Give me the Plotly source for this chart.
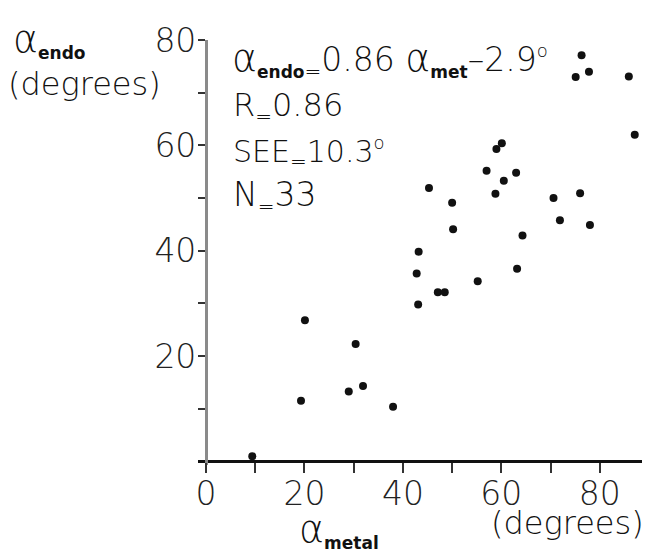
import plotly.graph_objects as go

# data
alpha_metal = [42.8, 63.2, 55.2, 47.1, 48.5, 43.1, 20.1, 30.4, 31.9, 29.0, 19.3,
               38.0, 9.4, 76.3, 75.1, 77.8, 85.9, 87.1, 60.1, 59.0, 57.0, 63.0,
               60.5, 58.8, 45.3, 50.0, 50.2, 43.2, 64.3, 70.6, 76.0, 71.9, 78.0]
alpha_endo = [35.7, 36.6, 34.2, 32.1, 32.1, 29.8, 26.8, 22.3, 14.3, 13.3, 11.5,
              10.4, 1.0, 77.1, 73.0, 74.0, 73.1, 62.0, 60.4, 59.3, 55.2, 54.8,
              53.3, 50.8, 51.9, 49.1, 44.1, 39.8, 42.9, 50.0, 50.9, 45.8, 44.9]

x_major = [0, 20, 40, 60, 80]
x_minor = [10, 30, 50, 70]
y_major = [20, 40, 60, 80]
y_minor = [10, 30, 50, 70]

# the page body has an 8px margin, so the figure is drawn 8px in from the corner
OFF = 8
W, H = 650 - OFF, 557 - OFF
FONT = "DejaVu Sans"
WT = 300

def px(x):
    return (x - OFF) / W

def py(y):
    return 1 - (y - OFF) / H

fig = go.Figure()
fig.add_trace(go.Scatter(
    x=alpha_metal, y=alpha_endo, mode="markers",
    marker=dict(size=8, color="#111111", line=dict(width=0)),
    cliponaxis=False, showlegend=False,
))

tickfont = dict(size=33, family=FONT, color="#222222", weight=WT)
fig.update_layout(
    width=W, height=H,
    margin=dict(l=0, r=0, t=0, b=0),
    paper_bgcolor="white", plot_bgcolor="white",
    font=dict(family=FONT, color="#111111", weight=WT),
    xaxis=dict(
        domain=[px(196), 1.0], range=[-1.6, 90.2],
        anchor="free", position=py(458),
        showgrid=False, zeroline=False,
        showline=True, linecolor="#111111", linewidth=3,
        tickmode="array", tickvals=x_major, ticktext=[str(v) for v in x_major],
        ticks="outside", ticklen=10, tickwidth=2, tickcolor="#333333",
        tickfont=tickfont, ticklabelstandoff=-8, ticklabeloverflow="allow",
        minor=dict(tickmode="array", tickvals=x_minor, ticks="outside",
                   ticklen=10, tickwidth=2, tickcolor="#333333"),
    ),
    yaxis=dict(
        domain=[py(462), py(21.5)], range=[-0.73, 80],
        anchor="free", position=px(203.9),
        showgrid=False, zeroline=False,
        showline=True, linecolor="#8a8a8a", linewidth=3,
        tickmode="array", tickvals=y_major, ticktext=[str(v) for v in y_major],
        ticks="outside", ticklen=7, tickwidth=2, tickcolor="#333333",
        tickfont=tickfont, ticklabelstandoff=-5, ticklabeloverflow="allow",
        minor=dict(tickmode="array", tickvals=y_minor, ticks="outside",
                   ticklen=7, tickwidth=2, tickcolor="#333333"),
    ),
)

A = '<span style="font-size:38px">α</span>'
SUB = '<sub><span style="font-size:17px;font-weight:bold">%s</span></sub>'
EQ = '<sub><span style="font-size:20px">=</span></sub>'
DEG = '<sup><span style="font-size:18px">o</span></sup>'

notes = [
    # (text, x px, y px, size, anchor)
    (A + SUB % "endo", 8, 21, 32, "left"),
    ("(degrees)", 3, 67, 32, "left"),
    (A + SUB % "endo" + EQ + "0.86 " + A + SUB % "met" + "–2.9" + DEG,
     228, 42, 33, "left"),
    ("R" + EQ + "0.86", 229, 91, 32, "left"),
    ("SEE" + EQ + "10.3" + DEG, 229, 138, 30, "left"),
    ("N" + EQ + "33", 229, 184, 33, "left"),
    (A + SUB % "metal", 295, 529, 32, "left"),
    ("(degrees)", 646, 522, 32, "right"),
]
for text, x, y, size, anchor in notes:
    fig.add_annotation(
        text=text, xref="paper", yref="paper", x=px(x), y=py(y),
        xanchor=anchor, yanchor="middle", showarrow=False,
        font=dict(size=size, family=FONT, color="#111111", weight=WT),
    )

fig.write_html("out.html")
